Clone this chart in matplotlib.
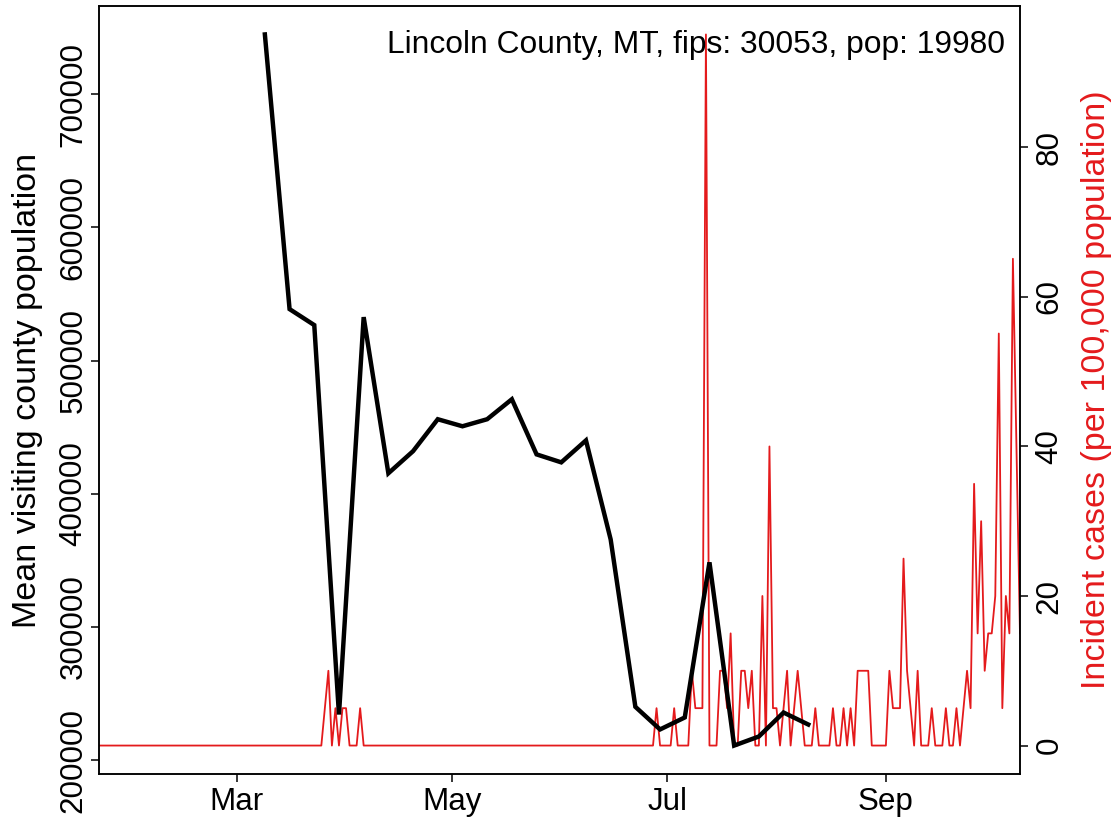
import numpy as np
import pandas as pd
import matplotlib
matplotlib.use("Agg")
import matplotlib.pyplot as plt
import matplotlib.dates as mdates
from matplotlib.ticker import MultipleLocator, StrMethodFormatter

plt.rcParams['font.family'] = ['Liberation Sans', 'DejaVu Sans']

title_text = "Lincoln County, MT, fips: 30053, pop: 19980"

# daily incident cases per 100,000, starting 2020-01-22
cases_start = "2020-01-22"
cases_per_100k = [
    0, 0, 0, 0, 0, 0, 0, 0, 0, 0, 0, 0, 0, 0,
    0, 0, 0, 0, 0, 0, 0, 0, 0, 0, 0, 0, 0, 0,
    0, 0, 0, 0, 0, 0, 0, 0, 0, 0, 0, 0, 0, 0,
    0, 0, 0, 0, 0, 0, 0, 0, 0, 0, 0, 0, 0, 0,
    0, 0, 0, 0, 0, 0, 0, 0, 5, 10, 0, 5, 0, 5,
    5, 0, 0, 0, 5, 0, 0, 0, 0, 0, 0, 0, 0, 0,
    0, 0, 0, 0, 0, 0, 0, 0, 0, 0, 0, 0, 0, 0,
    0, 0, 0, 0, 0, 0, 0, 0, 0, 0, 0, 0, 0, 0,
    0, 0, 0, 0, 0, 0, 0, 0, 0, 0, 0, 0, 0, 0,
    0, 0, 0, 0, 0, 0, 0, 0, 0, 0, 0, 0, 0, 0,
    0, 0, 0, 0, 0, 0, 0, 0, 0, 0, 0, 0, 0, 0,
    0, 0, 0, 0, 5, 0, 0, 0, 0, 5, 0, 0, 0, 0,
    10, 5, 5, 5, 95.1, 0, 0, 0, 10, 10, 5, 15, 0, 0,
    10, 10, 5, 10, 0, 0, 20, 0, 40, 5, 5, 0, 5, 10,
    0, 5, 10, 5, 0, 0, 0, 5, 0, 0, 0, 0, 5, 0,
    0, 5, 0, 5, 0, 10, 10, 10, 10, 0, 0, 0, 0, 0,
    10, 5, 5, 5, 25, 10, 5, 0, 10, 0, 0, 0, 5, 0,
    0, 0, 5, 0, 0, 5, 0, 5, 10, 5, 35, 15, 30, 10,
    15, 15, 20, 55.1, 5, 20, 15, 65.1, 40, 15,
]

# weekly mean visiting county population, starting 2020-03-09
visit_start = "2020-03-09"
visiting_pop = [
    745000, 538700, 526700, 234200, 532700, 415400, 432000, 456000,
    450700, 456000, 471000, 429600, 423600, 440100, 365700, 240000,
    223000, 232000, 348500, 210900, 217700, 235700, 226700,
]

case_dates = pd.date_range(cases_start, periods=len(cases_per_100k), freq="D")
visit_dates = pd.date_range(visit_start, periods=len(visiting_pop), freq="7D")

red = "#E41A1C"
fs = 22.6      # tick labels
fs_lab = 24.5  # axis titles

fig = plt.figure(figsize=(11.19, 8.22), dpi=100)
ax = fig.add_axes([0.0885, 0.0584, 0.8230, 0.9343])
ax_r = ax.twinx()
# black line drawn over the red one
ax.set_zorder(ax_r.get_zorder() + 1)
ax.patch.set_visible(False)

ax_r.plot(case_dates, cases_per_100k, color=red, lw=1.3)
ax.plot(visit_dates, visiting_pop, color="black", lw=3.2, solid_joinstyle="miter")

ax.set_xlim(case_dates[0], case_dates[-1])
ax_r.set_xlim(case_dates[0], case_dates[-1])
ax.margins(y=0.04)
ax_r.margins(y=0.04)

ax.xaxis.set_major_locator(mdates.MonthLocator(bymonth=[3, 5, 7, 9]))
ax.xaxis.set_major_formatter(mdates.DateFormatter("%b"))
ax.yaxis.set_major_locator(MultipleLocator(100000))
ax.yaxis.set_major_formatter(StrMethodFormatter("{x:.0f}"))
ax_r.yaxis.set_major_locator(MultipleLocator(20))
ax_r.yaxis.set_major_formatter(StrMethodFormatter("{x:.0f}"))

for a in (ax, ax_r):
    for sp in a.spines.values():
        sp.set_linewidth(1.1)
    a.tick_params(length=5.5, width=1.1, labelsize=fs, direction="out")

ax.tick_params(axis="x", pad=4)
ax.tick_params(axis="y", pad=2)
ax_r.tick_params(axis="y", pad=5)
for lab in ax.get_yticklabels() + ax_r.get_yticklabels():
    lab.set_rotation(90)
    lab.set_va("center")

ax.set_ylabel("Mean visiting county population", fontsize=fs_lab, va="center")
ax.yaxis.set_label_coords(-0.078, 0.5)
ax_r.set_ylabel("Incident cases (per 100,000 population)", fontsize=fs_lab,
                color=red, rotation=90, va="center")
ax_r.yaxis.set_label_coords(1.0835, 0.5)

ax.text(0.984, 0.949, title_text, transform=ax.transAxes, ha="right",
        va="center", fontsize=22.9)

fig.savefig("out.png", dpi=100)
